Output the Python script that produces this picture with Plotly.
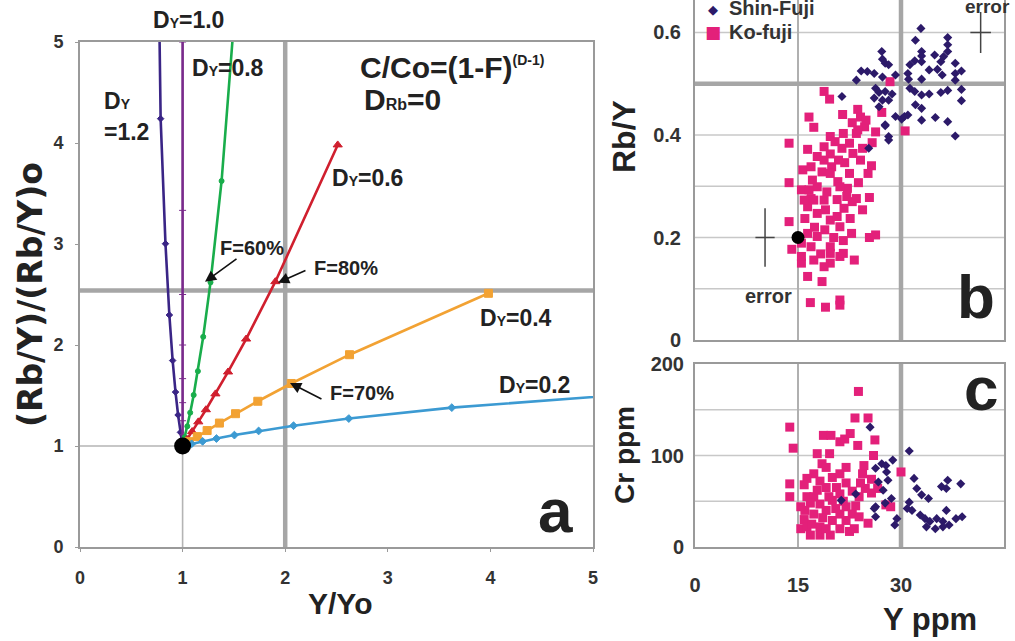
import plotly.graph_objects as go

W, H = 1015, 641
FONT = "Liberation Sans"


def px(X):
    return X / W


def py(Y):
    return 1 - Y / H


# ---------------- Panel a : model curves (Y/Yo , (Rb/Y)/(Rb/Y)o), F = 0 ... 0.9 ----------------
D02_X = [1, 1.088, 1.195, 1.330, 1.505, 1.741, 2.081, 2.620, 3.624, 6.310]
D02_Y = [1, 1.021, 1.046, 1.074, 1.108, 1.149, 1.201, 1.272, 1.380, 1.585]
D04_X = [1, 1.065, 1.143, 1.239, 1.359, 1.516, 1.733, 2.059, 2.627, 3.981]
D04_Y = [1, 1.043, 1.093, 1.153, 1.227, 1.320, 1.443, 1.619, 1.904, 2.512]
D06_X = [1, 1.043, 1.093, 1.153, 1.227, 1.320, 1.443, 1.619, 1.904, 2.512]
D06_Y = [1, 1.065, 1.143, 1.239, 1.359, 1.516, 1.733, 2.059, 2.627, 3.981]
D08_X = [1, 1.021, 1.046, 1.074, 1.108, 1.149, 1.201, 1.272, 1.380, 1.585]
D08_Y = [1, 1.088, 1.195, 1.330, 1.505, 1.741, 2.081, 2.620, 3.624, 6.310]
D10_X = [1, 1, 1, 1, 1, 1, 1, 1, 1, 1]
D10_Y = [1, 1.111, 1.250, 1.429, 1.667, 2.000, 2.500, 3.333, 5.000, 10.0]
D12_X = [1, 0.979, 0.956, 0.931, 0.903, 0.871, 0.833, 0.786, 0.725, 0.631]
D12_Y = [1, 1.135, 1.307, 1.534, 1.846, 2.297, 3.003, 4.241, 6.899, 15.85]
START_X = [1.0]
START_Y = [1.0]

A_TICKS = [0, 1, 2, 3, 4, 5]

# ---------------- Panel b : Rb/Y vs Y ppm ----------------
KO_B = [
    (18.8, 0.485), (19.6, 0.47), (16.6, 0.435), (17.3, 0.415), (21.5, 0.44), (23.7, 0.45),
    (24.1, 0.435), (24.7, 0.416), (23.5, 0.403), (27.2, 0.444), (25.8, 0.385), (13.7, 0.384),
    (30.6, 0.408), (19.7, 0.397), (20.4, 0.387), (21.4, 0.374), (23.0, 0.364), (24.4, 0.374),
    (25.7, 0.34), (25.2, 0.325), (23.8, 0.307), (22.5, 0.325), (21.8, 0.346), (19.7, 0.363),
    (17.8, 0.358), (16.4, 0.372), (15.7, 0.332), (17.1, 0.312), (18.5, 0.328), (19.9, 0.338),
    (20.8, 0.309), (22.2, 0.296), (23.5, 0.276), (25.4, 0.278), (13.7, 0.307), (15.5, 0.293),
    (16.9, 0.276), (18.8, 0.273), (20.7, 0.274), (21.7, 0.257), (22.9, 0.27), (22.6, 0.237),
    (21.1, 0.221), (19.7, 0.234), (17.8, 0.247), (16.4, 0.26), (16.0, 0.237), (17.4, 0.22),
    (18.9, 0.215), (20.2, 0.2), (21.6, 0.194), (22.8, 0.208), (19.7, 0.182), (18.3, 0.168),
    (16.9, 0.182), (15.5, 0.189), (14.1, 0.177), (13.7, 0.231), (15.5, 0.15), (16.4, 0.124),
    (18.5, 0.114), (19.7, 0.15), (21.1, 0.163), (23.2, 0.156), (16.8, 0.073), (19.0, 0.064),
    (21.1, 0.078), (21.1, 0.068), (25.4, 0.2), (26.3, 0.205), (17.8, 0.299), (19.2, 0.289),
    (17.8, 0.202), (16.4, 0.208), (19.0, 0.254), (16.9, 0.338), (19.7, 0.325), (20.9, 0.351),
    (18.8, 0.377), (22.5, 0.384), (22.9, 0.424), (23.7, 0.41), (24.9, 0.429), (26.3, 0.406),
    (28.4, 0.504), (22.1, 0.28), (24.4, 0.254), (20.7, 0.241), (17.3, 0.273), (15.9, 0.273),
    (19.7, 0.169), (21.6, 0.169), (15.5, 0.163), (17.3, 0.156), (18.8, 0.143), (16.6, 0.293),
    (21.1, 0.299), (24.1, 0.351), (18.8, 0.351), (21.6, 0.403),
]
SHIN_B = [
    (32.9, 0.608), (32.1, 0.585), (36.8, 0.59), (36.8, 0.576), (36.8, 0.563), (36.2, 0.553),
    (27.2, 0.563), (27.3, 0.548), (27.7, 0.54), (28.2, 0.537), (33.0, 0.563), (33.0, 0.554),
    (33.0, 0.543), (32.0, 0.545), (31.3, 0.537), (34.9, 0.556), (35.8, 0.543), (37.9, 0.54),
    (34.1, 0.527), (35.3, 0.528), (36.0, 0.517), (37.9, 0.52), (38.8, 0.525), (24.2, 0.525),
    (25.1, 0.524), (26.1, 0.52), (23.5, 0.507), (29.2, 0.517), (31.0, 0.52), (31.1, 0.509),
    (33.0, 0.509), (27.3, 0.513), (37.9, 0.507), (26.3, 0.491), (26.8, 0.483), (27.7, 0.485),
    (28.7, 0.48), (26.1, 0.472), (27.3, 0.468), (28.2, 0.468), (26.8, 0.455), (31.3, 0.491),
    (32.0, 0.485), (33.0, 0.478), (34.1, 0.48), (32.1, 0.459), (33.0, 0.452), (35.8, 0.483),
    (36.8, 0.487), (38.8, 0.489), (38.8, 0.467), (29.2, 0.436), (31.0, 0.439), (30.1, 0.431),
    (33.0, 0.429), (35.0, 0.434), (36.8, 0.426), (27.7, 0.418), (28.2, 0.397), (37.9, 0.398),
    (21.4, 0.475), (25.3, 0.374), (28.2, 0.39), (27.7, 0.42), (30.5, 0.436),
]
START_B_X = [15.0]
START_B_Y = [0.2]
ERR_X = [10.2, 41.6]
ERR_Y = [0.2, 0.6]
ERR_DX = [1.4, 1.5]
ERR_DY = [0.057, 0.04]

# ---------------- Panel c : Cr ppm vs Y ppm ----------------
KO_C = [
    (23.8, 170), (23.3, 141), (25.2, 141), (26.2, 117), (26.0, 100), (13.8, 131), (14.3, 108),
    (13.8, 69), (13.8, 55), (18.7, 122), (19.8, 122), (21.1, 115), (21.8, 118), (22.6, 124),
    (23.7, 111), (17.8, 102), (19.6, 102), (18.5, 91), (24.6, 89), (24.4, 80), (15.4, 20),
    (15.9, 30), (16.3, 55), (15.9, 68), (17.3, 80), (18.2, 72), (19.1, 65), (20.0, 76),
    (21.1, 80), (22.0, 70), (22.9, 61), (23.9, 55), (24.8, 64), (25.7, 74), (25.7, 59),
    (25.2, 26), (17.3, 55), (18.2, 47), (17.3, 36), (16.3, 22), (18.2, 22), (19.7, 13),
    (21.1, 20), (22.5, 17), (23.2, 20), (21.1, 36), (22.0, 44), (20.0, 51), (19.1, 40),
    (20.0, 29), (18.2, 13), (16.8, 13), (15.4, 44), (22.9, 36), (23.9, 33), (21.1, 58),
    (22.0, 87), (19.1, 87), (17.8, 62), (19.1, 20), (22.0, 29), (27.8, 46), (28.5, 44),
    (30.0, 82), (26.6, 64), (16.3, 75), (24.1, 70), (16.8, 48), (18.6, 32), (20.5, 42),
    (21.6, 50), (17.0, 25), (19.5, 55), (23.4, 45), (16.0, 40), (20.6, 65),
]
SHIN_C = [
    (31.2, 105), (28.8, 95), (27.2, 91), (27.9, 82), (26.3, 86), (25.5, 131), (28.1, 73),
    (26.7, 71), (27.4, 62), (28.6, 53), (26.3, 44), (26.3, 33), (29.1, 24), (31.9, 75),
    (32.3, 64), (33.0, 57), (34.0, 53), (31.2, 49), (30.9, 42), (31.6, 40), (32.8, 35),
    (33.5, 31), (34.2, 28), (35.2, 31), (36.1, 28), (37.0, 24), (38.0, 31), (38.9, 33),
    (33.7, 22), (36.1, 22), (36.6, 40), (35.9, 66), (36.8, 73), (36.6, 64), (38.7, 69),
    (26.1, 42), (27.7, 48), (23.4, 58), (21.3, 51), (27.8, 89), (29.4, 31), (35.0, 20),
]

NAVY = "#2c1a69"
PINK = "#e3207a"
GRID = "#c8c8c8"
GRID_DARK = "#a6a6a6"

fig = go.Figure()

# panel a curves
curves = [
    (D12_X, D12_Y, "#3a2586", "diamond", 5),
    (D10_X, D10_Y, "#7a2a8c", "line-ew", 5),
    (D08_X, D08_Y, "#19ad4b", "circle", 5),
    (D06_X, D06_Y, "#d01f2e", "triangle-up", 8),
    (D04_X, D04_Y, "#f2a233", "square", 8),
    (D02_X, D02_Y, "#3c9ad2", "diamond", 6),
]
for xs, ys, col, sym, sz in curves:
    fig.add_trace(go.Scatter(
        x=xs, y=ys, mode="lines+markers", xaxis="x", yaxis="y",
        line=dict(color=col, width=2.6),
        marker=dict(color=col, symbol=sym, size=sz, line=dict(color=col, width=1)),
        showlegend=False, hoverinfo="skip"))
fig.add_trace(go.Scatter(x=START_X, y=START_Y, mode="markers", xaxis="x", yaxis="y",
                         marker=dict(color="black", size=17), showlegend=False))

# panel b
fig.add_trace(go.Scatter(x=[p[0] for p in KO_B], y=[p[1] for p in KO_B], mode="markers",
                         xaxis="x2", yaxis="y2", name="Ko-fuji",
                         marker=dict(color=PINK, symbol="square", size=9), showlegend=False))
fig.add_trace(go.Scatter(x=[p[0] for p in SHIN_B], y=[p[1] for p in SHIN_B], mode="markers",
                         xaxis="x2", yaxis="y2", name="Shin-Fuji",
                         marker=dict(color=NAVY, symbol="diamond", size=7), showlegend=False))
fig.add_trace(go.Scatter(x=START_B_X, y=START_B_Y, mode="markers", xaxis="x2", yaxis="y2",
                         marker=dict(color="black", size=13), showlegend=False))
fig.add_trace(go.Scatter(x=ERR_X, y=ERR_Y, mode="markers", xaxis="x2", yaxis="y2",
                         marker=dict(size=1, color="rgba(0,0,0,0)"),
                         error_x=dict(type="data", array=ERR_DX, color="#444", thickness=1.5, width=0),
                         error_y=dict(type="data", array=ERR_DY, color="#444", thickness=1.5, width=0),
                         showlegend=False))

# panel c
fig.add_trace(go.Scatter(x=[p[0] for p in KO_C], y=[p[1] for p in KO_C], mode="markers",
                         xaxis="x3", yaxis="y3",
                         marker=dict(color=PINK, symbol="square", size=9), showlegend=False))
fig.add_trace(go.Scatter(x=[p[0] for p in SHIN_C], y=[p[1] for p in SHIN_C], mode="markers",
                         xaxis="x3", yaxis="y3",
                         marker=dict(color=NAVY, symbol="diamond", size=7), showlegend=False))

shapes = []


def vline(xref, yref, x, y0, y1, color, width):
    shapes.append(dict(type="line", xref=xref, yref=yref, x0=x, x1=x, y0=y0, y1=y1,
                       line=dict(color=color, width=width), layer="below"))


def hline(xref, yref, y, x0, x1, color, width):
    shapes.append(dict(type="line", xref=xref, yref=yref, x0=x0, x1=x1, y0=y, y1=y,
                       line=dict(color=color, width=width), layer="below"))


# panel a grid
vline("x", "y", 1, 0, 5, "#b4b4b4", 1.6)
hline("x", "y", 1, 0, 5, "#b4b4b4", 1.6)
vline("x", "y", 2, 0, 5, GRID_DARK, 4.5)
hline("x", "y", 2.54, 0, 5, GRID_DARK, 4.5)
# panel b grid
for gy in [0.1, 0.2, 0.3, 0.4, 0.6]:
    hline("x2", "y2", gy, 0, 45, GRID, 1.3)
vline("x2", "y2", 15, 0, 0.7, "#b0b0b0", 2)
vline("x2", "y2", 30, 0, 0.7, GRID_DARK, 4.5)
hline("x2", "y2", 0.5, 0, 45, GRID_DARK, 4.5)
# panel c grid
for gy in [50, 100, 150]:
    hline("x3", "y3", gy, 0, 45, GRID, 1.3)
vline("x3", "y3", 15, 0, 200, "#b0b0b0", 2)
vline("x3", "y3", 30, 0, 200, GRID_DARK, 4.5)

tickfont = dict(family=FONT, size=18, color="#333", weight="bold")
tickfont_bc = dict(family=FONT, size=20, color="#333", weight="bold")
axis_common = dict(showgrid=False, zeroline=False, showline=True, linecolor="#9a9a9a",
                   linewidth=2, mirror=True, automargin=False)

fig.update_layout(
    width=W, height=H, margin=dict(l=0, r=0, t=0, b=0, pad=0, autoexpand=False),
    paper_bgcolor="white", plot_bgcolor="white",
    shapes=shapes,
    xaxis=dict(domain=[px(80), px(593)], range=[0, 5], tickvals=A_TICKS, ticks="outside",
               ticklen=3, tickcolor="#9a9a9a", tickfont=tickfont, ticklabelstandoff=10, **axis_common),
    yaxis=dict(domain=[py(547), py(42)], range=[0, 5], tickvals=A_TICKS, ticks="outside",
               ticklen=3, tickcolor="#9a9a9a", tickfont=tickfont, ticklabelstandoff=8, **axis_common),
    xaxis2=dict(domain=[px(695), px(1004)], range=[0, 45], showticklabels=False, ticks="",
                anchor="y2", **axis_common),
    yaxis2=dict(domain=[py(340), 1.0], range=[0, 0.6634], tickvals=[0, 0.2, 0.4, 0.6],
                ticktext=["0", "0.2", "0.4", "0.6"], ticks="", tickfont=tickfont_bc,
                ticklabelstandoff=8, anchor="x2", **axis_common),
    xaxis3=dict(domain=[px(695), px(1004)], range=[0, 45], tickvals=[0, 15, 30], ticks="",
                tickfont=tickfont_bc, ticklabelstandoff=19, anchor="y3", **axis_common),
    yaxis3=dict(domain=[py(547), py(364)], range=[0, 200], tickvals=[0, 100, 200], ticks="",
                tickfont=tickfont_bc, ticklabelstandoff=5, anchor="x3", **axis_common),
)

anns = []


def text(X, Y, s, size, xanchor="center", color="#222", angle=0, weight="bold", family=FONT):
    anns.append(dict(x=px(X), y=py(Y), xref="paper", yref="paper", text=s, showarrow=False,
                     xanchor=xanchor, yanchor="middle", textangle=angle,
                     font=dict(family=family, size=size, color=color, weight=weight)))


def dy(val):
    return "D<span style='font-size:14px'>Y</span>=" + val


text(188, 20, dy("1.0"), 23)
text(190, 68, dy("0.8"), 23, xanchor="left")
text(102, 101, "D<span style='font-size:14px'>Y</span>", 23, xanchor="left")
text(102, 132, "=1.2", 23, xanchor="left")
text(330, 178, dy("0.6"), 23, xanchor="left")
text(478, 318, dy("0.4"), 23, xanchor="left")
text(497, 385, dy("0.2"), 23, xanchor="left")
text(358, 68, "C/Co=(1-F)<sup><span style='font-size:14px'>(D-1)</span></sup>", 30, xanchor="left")
text(362, 99, "D<span style='font-size:16px'>Rb</span>=0", 30, xanchor="left")
text(252, 248, "F=60%", 20)
text(346, 268, "F=80%", 20)
text(362, 393, "F=70%", 20)
text(555, 511, "a", 62)
text(976, 296, "b", 62)
text(981, 388, "c", 62)
text(340, 603, "Y/Yo", 30)
text(30, 295, "(Rb/Y)/(Rb/Y)o", 33, angle=-90, family="DejaVu Sans")
text(624, 137, "Rb/Y", 32, angle=-90)
text(624, 455, "Cr ppm", 28, angle=-90)
text(930, 619, "Y ppm", 31)
text(768, 296, "error", 20, color="#333")
text(987, 6, "error", 19, color="#333")
# legend of panel b
text(713, 9, "◆", 13, color=NAVY, family="DejaVu Sans")
text(727, 8, "Shin-Fuji", 20, xanchor="left", color="#333")
text(713, 32, "■", 17, color=PINK, family="DejaVu Sans")
text(727, 32, "Ko-fuji", 20, xanchor="left", color="#333")

# arrows (panel a, data coords)
arrows = [((1.218, 2.626), (1.540, 2.864)),
          ((1.930, 2.616), (2.212, 2.745)),
          ((2.047, 1.625), (2.368, 1.457))]
for (hx, hy), (tx, ty) in arrows:
    anns.append(dict(x=hx, y=hy, ax=tx, ay=ty, xref="x", yref="y", axref="x", ayref="y",
                     text="", showarrow=True, arrowhead=2, arrowsize=1.4, arrowwidth=1.6,
                     arrowcolor="#111"))

fig.update_layout(annotations=anns)
fig.write_html("out.html", config={"displayModeBar": False},
               post_script="document.body.style.margin='0px';")
